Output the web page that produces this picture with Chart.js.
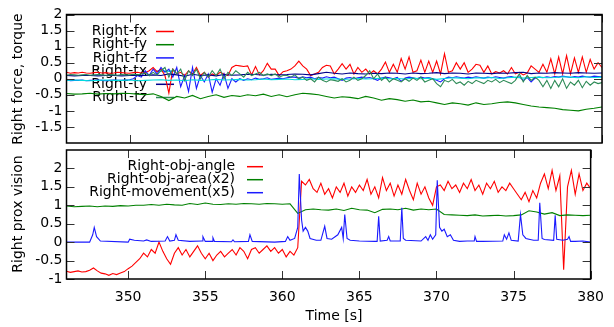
<!DOCTYPE html>
<html>
<head>
<meta charset="utf-8">
<script src="https://cdn.jsdelivr.net/npm/chart.js@4.4.1/dist/chart.umd.min.js"></script>
<style>
  html, body { margin: 0; padding: 0; background: #fff; }
  #wrap { position: relative; width: 614px; height: 327px; }
  canvas { position: absolute; left: 0; top: 0; }
</style>
</head>
<body>
<div id="wrap">
  <canvas id="forces" width="614" height="327"></canvas>
  <canvas id="vision" width="614" height="327"></canvas>
</div>
<script>
// ---- axis ticks ----
const xTicks = [350, 355, 360, 365, 370, 375, 380];
const forceTicks = [-1.5, -1, -0.5, 0, 0.5, 1, 1.5, 2];
const visionTicks = [-1, -0.5, 0, 0.5, 1, 1.5, 2];

// ---- top panel: sampled every 0.25 s from 345.75 ----
const fx = [0.18,
  0.2,0.17,0.19,0.18,   0.2,0.18,0.17,0.19,   0.2,0.18,0.19,0.17,   0.18,0.2,0.19,0.18,
  0.17,0.19,0.2,0.18,   0.19,0.25,0.35,0.22,  0.3,0.1,-0.45,0.3,    0.15,0.2,0.1,0.25,
  0.15,0.35,0.1,0.2,    0.05,0.15,0.1,0.2,    0.15,0.1,0.35,0.42,   0.4,0.38,0.4,0.12,
  0.38,0.12,0.25,0.48,  0.3,0.3,0.1,0.22,     0.25,0.3,0.4,0.55,    0.4,0.3,0.1,0.15,
  0.2,0.35,0.42,0.4,    0.15,0.3,0.47,0.3,    0.45,0.15,0.35,0.2,   0.3,0.15,0.25,0.15,
  0.3,0.52,0.2,0.45,    0.2,0.63,0.3,0.68,    0.2,0.25,0.58,0.2,    0.55,0.2,0.55,0.15,
  0.78,0.2,0.25,0.5,    0.3,0.5,0.2,0.3,      0.45,0.42,0.2,0.4,    0.15,0.22,0.18,0.25,
  0.15,0.35,0.15,0.2,   0.12,0.18,0.4,0.3,    0.2,0.45,0.2,0.62,    0.15,0.68,0.15,0.72,
  0.15,0.65,0.2,0.68,   0.2,0.6,0.3,0.5,
  0.35];
const fz = [-0.05,
  -0.04,-0.06,-0.05,-0.05, -0.04,-0.06,-0.05,-0.05, -0.04,-0.05,-0.06,-0.05, -0.04,-0.05,-0.05,-0.04,
  -0.03,0.0,0.1,0.05,      0.25,0.1,0.3,0.15,       0.35,0.2,0.3,0.05,       0.35,-0.25,0.1,-0.4,
  0.35,-0.3,0.1,-0.1,      0.15,-0.42,0.0,-0.2,     0.15,-0.3,0.0,-0.1,      0.0,-0.05,0.0,-0.03,
  0.02,-0.02,0.0,0.03,     -0.02,0.0,0.02,0.0,      0.03,0.05,0.05,0.02,     0.06,0.03,0.05,0.0,
  0.04,0.02,0.06,0.03,     0.05,0.0,-0.05,0.02,     0.04,0.0,0.03,0.05,      0.02,0.04,0.0,-0.05,
  0.02,0.05,0.03,0.0,      0.04,-0.08,0.02,0.05,    0.03,0.0,0.05,0.02,      0.04,0.0,-0.05,-0.1,
  0.0,0.05,0.03,0.06,      0.04,0.02,0.05,0.03,     0.06,0.04,0.02,0.05,     0.03,0.06,0.04,0.02,
  0.05,0.07,0.03,0.06,     -0.05,0.04,-0.1,0.02,    0.05,0.03,0.06,0.04,     0.07,0.05,0.08,0.06,
  0.04,0.07,0.05,0.08,     0.06,0.05,0.08,0.07,
  0.06];
const tz = [0.12,
  0.11,0.13,0.12,0.11,   0.12,0.13,0.11,0.12,   0.13,0.12,0.11,0.12,   0.12,0.11,0.13,0.12,
  0.12,0.14,0.12,0.15,   0.18,0.1,0.2,0.12,     0.25,0.35,0.05,0.3,    0.15,0.3,-0.05,0.25,
  0.1,0.3,0.0,0.2,       0.05,0.25,0.1,0.3,     0.0,0.2,0.1,0.25,      0.15,0.05,0.2,0.1,
  0.15,0.2,0.1,0.15,     0.1,0.15,0.05,0.1,     0.1,0.05,0.12,0.0,     0.05,-0.05,0.0,-0.1,
  0.05,-0.05,-0.1,-0.03, -0.05,-0.08,0.0,-0.1,  -0.05,0.05,-0.05,0.0,  0.1,0.25,0.0,0.15,
  -0.05,0.05,-0.1,0.0,   -0.05,-0.1,0.0,-0.08,  0.02,-0.05,0.05,-0.1,  -0.05,0.0,-0.15,-0.25,
  -0.05,-0.1,-0.02,-0.15, -0.1,-0.2,-0.08,-0.15, -0.05,-0.1,-0.15,-0.05, -0.1,-0.02,-0.12,-0.05,
  -0.1,-0.15,-0.05,0.15, -0.1,0.1,-0.05,0.05,   -0.05,-0.25,-0.05,-0.3, -0.05,-0.25,0.0,-0.3,
  -0.1,-0.2,-0.05,-0.28, -0.08,-0.2,-0.1,-0.15,
  -0.12];

// ---- top panel: sampled every 0.5 s from 345.5 ----
const fy = [-0.47,
  -0.46,-0.48, -0.47,-0.45, -0.48,-0.46, -0.47,-0.45, -0.46,-0.48, -0.5,-0.47, -0.55,-0.68, -0.55,-0.6,
  -0.52,-0.62, -0.55,-0.5, -0.58,-0.52, -0.55,-0.5, -0.53,-0.48, -0.55,-0.5, -0.56,-0.5, -0.45,-0.47,
  -0.5,-0.55, -0.6,-0.56, -0.58,-0.62, -0.55,-0.6, -0.67,-0.62, -0.65,-0.7, -0.66,-0.72, -0.7,-0.75,
  -0.8,-0.75, -0.78,-0.82, -0.75,-0.8, -0.78,-0.74, -0.72,-0.75, -0.8,-0.85, -0.88,-0.9, -0.92,-0.96,
  -0.98,-1.0, -0.95,-0.92,
  -0.88];
const tx = [-0.05,
  -0.05,-0.04, -0.05,-0.06, -0.05,-0.04, -0.05,-0.05, -0.04,-0.06, -0.05,-0.04, -0.03,-0.05, -0.04,-0.06,
  -0.03,-0.05, -0.04,-0.02, -0.04,-0.03, -0.02,-0.04, -0.03,-0.01, -0.03,-0.02, -0.01,-0.03, -0.02,0.0,
  -0.02,-0.01, 0.0,-0.02, -0.01,0.01, -0.01,0.0, 0.02,0.0, 0.01,-0.01, 0.02,0.0, 0.02,-0.02,
  0.01,0.03, 0.02,0.0, 0.03,0.02, 0.04,0.01, 0.03,0.05, 0.02,0.04, 0.05,0.03, 0.04,0.06,
  0.05,0.03, 0.06,0.04,
  0.05];
const ty = [0.09,
  0.1,0.09, 0.1,0.1, 0.09,0.1, 0.1,0.09, 0.1,0.11, 0.1,0.12, 0.1,0.15, 0.12,0.08,
  0.14,0.1, 0.12,0.09, 0.13,0.11, 0.12,0.14, 0.13,0.11, 0.14,0.12, 0.13,0.15, 0.14,0.12,
  0.16,0.2, 0.17,0.15, 0.18,0.16, 0.15,0.17, 0.16,0.18, 0.17,0.15, 0.18,0.16, 0.17,0.19,
  0.16,0.18, 0.17,0.15, 0.18,0.17, 0.16,0.18, 0.17,0.19, 0.2,0.16, 0.18,0.17, 0.19,0.18,
  0.17,0.19, 0.18,0.17,
  0.18];

// ---- bottom panel ----
// obj angle, every 0.25 s from 345.75
const objAngle = [-0.8,
  -0.79,-0.82,-0.8,-0.78,  -0.81,-0.8,-0.76,-0.7,   -0.78,-0.84,-0.86,-0.9,  -0.85,-0.88,-0.84,-0.8,
  -0.72,-0.65,-0.55,-0.45, -0.3,-0.4,-0.2,-0.3,     0.0,-0.25,-0.45,-0.6,    -0.3,-0.15,-0.35,-0.2,
  -0.4,-0.25,-0.1,-0.3,    -0.45,-0.3,-0.5,-0.35,   -0.25,-0.4,-0.3,-0.2,    -0.35,-0.15,-0.25,-0.45,
  -0.2,-0.15,-0.3,-0.2,    -0.1,-0.25,-0.15,-0.3,   -0.2,-0.4,-0.25,-0.35,   -0.15,1.65,1.55,1.7,
  1.45,1.35,1.6,1.3,       1.45,1.2,1.5,1.35,       1.6,1.25,1.5,1.35,       1.55,1.4,1.7,1.3,
  1.5,1.2,1.75,1.4,        1.6,1.25,1.55,1.3,       1.7,1.4,1.15,1.6,        1.3,1.5,1.2,1.0,
  1.5,1.55,1.4,1.65,       1.45,1.55,1.35,1.6,      1.45,1.7,1.4,1.55,       1.3,1.6,1.45,1.65,
  1.35,1.5,1.4,1.6,        1.45,1.3,1.15,1.35,      1.1,1.4,1.2,1.6,         1.85,1.45,1.95,1.4,
  1.8,-0.75,1.5,1.95,      1.3,1.85,1.4,1.6,
  1.45];
// obj area (x2), every 0.5 s from 345.5
const objArea = [0.97,
  0.98,0.96, 0.97,0.98, 0.96,0.98, 0.97,0.99, 0.98,1.0, 1.0,1.02, 1.0,1.03, 1.01,1.0,
  1.05,1.02, 1.06,1.03, 1.02,1.04, 1.03,1.05, 1.04,1.03, 1.05,1.04, 1.03,1.04, 0.78,0.88,
  0.9,0.88, 0.87,0.9, 0.86,0.92, 0.88,0.87, 0.8,0.89, 0.9,0.88, 0.92,0.87, 0.9,0.88,
  0.9,0.75, 0.74,0.73, 0.72,0.74, 0.71,0.72, 0.73,0.71, 0.72,0.74, 0.85,0.82, 0.76,0.8,
  0.72,0.74, 0.73,0.72,
  0.73];
// movement (x5), irregular samples
const moveT = [345.8, 347.5, 347.7, 347.8, 347.95, 348.2, 350.0, 350.1, 350.4, 351.0, 351.2, 351.5,
  352.4, 352.55, 352.7, 353.0, 353.1, 353.25, 354.0, 354.8, 354.85, 355.0, 355.45, 355.5, 355.6,
  356.7, 356.8, 356.9, 357.8, 357.9, 358.05, 359.5, 360.2, 360.35, 360.5, 360.8, 361.0, 361.1,
  361.25, 361.35, 361.5, 361.65, 361.8, 362.2, 362.5, 362.75, 362.9, 363.2, 363.6, 363.85, 363.95,
  364.05, 364.2, 364.4, 365.0, 366.0, 366.15, 366.25, 366.35, 366.8, 366.9, 367.0, 367.65, 367.75,
  367.85, 368.0, 369.0, 369.3, 369.45, 369.6, 369.75, 369.95, 370.05, 370.2, 370.35, 370.5, 370.7,
  370.9, 371.1, 371.5, 372.0, 372.45, 372.5, 372.6, 373.0, 374.3, 374.4, 374.55, 374.7, 374.85,
  375.3, 375.45, 375.6, 375.8, 376.0, 376.3, 376.6, 376.7, 376.85, 377.0, 377.6, 377.7, 377.8,
  378.2, 378.5, 378.6, 378.7, 379.0, 379.5, 380.0];
const moveV = [0.0, 0.0, 0.2, 0.4, 0.15, 0.03, 0.0, 0.08, 0.05, 0.03, 0.06, 0.02,
  0.03, 0.15, 0.03, 0.05, 0.2, 0.05, 0.02, 0.03, 0.15, 0.02, 0.02, 0.12, 0.02,
  0.01, 0.06, 0.01, 0.02, 0.2, 0.02, 0.0, 0.02, 0.15, 0.05, 0.1, 0.4, 1.85,
  0.6, 0.3, 0.4, 0.3, 0.1, 0.05, 0.05, 0.43, 0.1, 0.08, 0.2, 0.4, 0.1,
  0.75, 0.1, 0.05, 0.03, 0.02, 0.02, 0.7, 0.03, 0.05, 0.15, 0.03, 0.03, 0.93,
  0.1, 0.05, 0.03, 0.15, 0.05, 0.2, 0.08, 0.2, 1.68, 0.4, 0.3, 0.35, 0.15,
  0.2, 0.05, 0.02, 0.03, 0.03, 0.15, 0.02, 0.02, 0.03, 0.2, 0.08, 0.25, 0.05,
  0.03, 0.75, 0.2, 0.1, 0.08, 0.05, 0.05, 1.07, 0.1, 0.07, 0.05, 0.73, 0.08,
  0.05, 0.08, 0.15, 0.02, 0.02, 0.03, 0.0];

// sample times for the regularly sampled arrays
function times(start, step, n) {
  const t = [];
  for (let i = 0; i < n; i++) t.push(start + i * step);
  return t;
}
function pts(ts, vs) { return vs.map((v, i) => ({ x: ts[i], y: v })); }

const tQuarter = times(345.75, 0.25, fx.length);
const tHalf = times(345.5, 0.5, fy.length);

const FONT = '"DejaVu Sans", sans-serif';

// gnuplot look: frame, inward ticks, key and axis titles
const gnuplotLook = {
  id: 'gp',
  beforeDatasetsDraw(chart, args, o) {
    const ctx = chart.ctx;
    ctx.save();
    ctx.font = '14px ' + FONT;
    ctx.textAlign = 'right';
    ctx.textBaseline = 'middle';
    chart.data.datasets.forEach((ds, i) => {
      const y = o.keyY + i * o.keyDy;
      ctx.fillStyle = '#000';
      ctx.fillText(ds.label, o.keyX, y);
      ctx.strokeStyle = ds.borderColor;
      ctx.lineWidth = 1.5;
      ctx.beginPath();
      ctx.moveTo(o.sampleX0, y);
      ctx.lineTo(o.sampleX1, y);
      ctx.stroke();
    });
    ctx.restore();
  },
  afterDraw(chart, args, o) {
    const { ctx, chartArea: a, scales: { x, y } } = chart;
    ctx.save();
    ctx.strokeStyle = '#333';
    ctx.lineWidth = 1;
    ctx.beginPath();
    x.ticks.forEach(t => {
      const px = Math.round(x.getPixelForValue(t.value)) + 0.5;
      ctx.moveTo(px, a.top); ctx.lineTo(px, a.top + 8);
      ctx.moveTo(px, a.bottom); ctx.lineTo(px, a.bottom - 8);
    });
    y.ticks.forEach(t => {
      const py = Math.round(y.getPixelForValue(t.value)) + 0.5;
      ctx.moveTo(a.left, py); ctx.lineTo(a.left + 8, py);
      ctx.moveTo(a.right, py); ctx.lineTo(a.right - 8, py);
    });
    ctx.stroke();
    ctx.strokeStyle = '#000';
    ctx.lineWidth = 1.5;
    ctx.strokeRect(a.left, a.top, a.right - a.left, a.bottom - a.top);

    ctx.fillStyle = '#000';
    ctx.font = '14px ' + FONT;
    ctx.textAlign = 'center';
    ctx.textBaseline = 'middle';
    if (o.xTitle) ctx.fillText(o.xTitle, o.xTitleX, o.xTitleY);
    ctx.translate(o.yTitleX, o.yTitleY);
    ctx.rotate(-Math.PI / 2);
    ctx.fillText(o.yTitle, 0, 0);
    ctx.restore();
  }
};

function line(label, color, data, order) {
  return { label, data, borderColor: color, borderWidth: 1.1, pointRadius: 0, tension: 0, order };
}

function panel(id, datasets, yMin, yMax, yTicks, pad, showX, gp) {
  return new Chart(document.getElementById(id), {
    type: 'line',
    data: { datasets },
    plugins: [gnuplotLook],
    options: {
      responsive: false,
      animation: false,
      devicePixelRatio: 1,
      layout: { padding: pad },
      plugins: { legend: { display: false }, tooltip: { enabled: false }, gp },
      scales: {
        x: {
          type: 'linear', min: 346, max: 380,
          grid: { display: false, drawTicks: false },
          border: { display: false },
          afterBuildTicks: s => { s.ticks = xTicks.map(v => ({ value: v })); },
          afterFit: s => { s.height = showX ? 30 : 0; },
          ticks: { display: showX, autoSkip: false, maxRotation: 0, padding: 10, color: '#000', font: { family: FONT, size: 14 } }
        },
        y: {
          min: yMin, max: yMax,
          grid: { display: false, drawTicks: false },
          border: { display: false },
          afterBuildTicks: s => { s.ticks = yTicks.map(v => ({ value: v })); },
          afterFit: s => { s.width = 66.5; },
          ticks: { autoSkip: false, padding: 4, color: '#000', font: { family: FONT, size: 14 }, callback: v => String(v) }
        }
      }
    }
  });
}

panel('forces', [
  line('Right-fx', '#ff0000', pts(tQuarter, fx), 6),
  line('Right-fy', '#008000', pts(tHalf, fy), 5),
  line('Right-fz', '#1a1aff', pts(tQuarter, fz), 4),
  line('Right-tx', '#00dddd', pts(tHalf, tx), 3),
  line('Right-ty', '#00008b', pts(tHalf, ty), 2),
  line('Right-tz', '#2e8b57', pts(tQuarter, tz), 1)
], -2, 2, forceTicks, { top: 14.5, right: 12, bottom: 184, left: 0 }, false,
  { keyX: 147, keyY: 31.5, keyDy: 13.2, sampleX0: 156, sampleX1: 174,
    yTitle: 'Right force, torque', yTitleX: 18, yTitleY: 79 });

panel('vision', [
  line('Right-obj-angle', '#ff0000', pts(tQuarter, objAngle), 3),
  line('Right-obj-area(x2)', '#008000', pts(tHalf, objArea), 2),
  line('Right-movement(x5)', '#1a1aff', pts(moveT, moveV), 1)
], -1, 2.5, visionTicks, { top: 150, right: 12, bottom: 18, left: 0 }, true,
  { keyX: 235, keyY: 166.7, keyDy: 13, sampleX0: 247, sampleX1: 263,
    yTitle: 'Right prox vision', yTitleX: 18, yTitleY: 214,
    xTitle: 'Time [s]', xTitleX: 334, xTitleY: 316.5 });
</script>
</body>
</html>
